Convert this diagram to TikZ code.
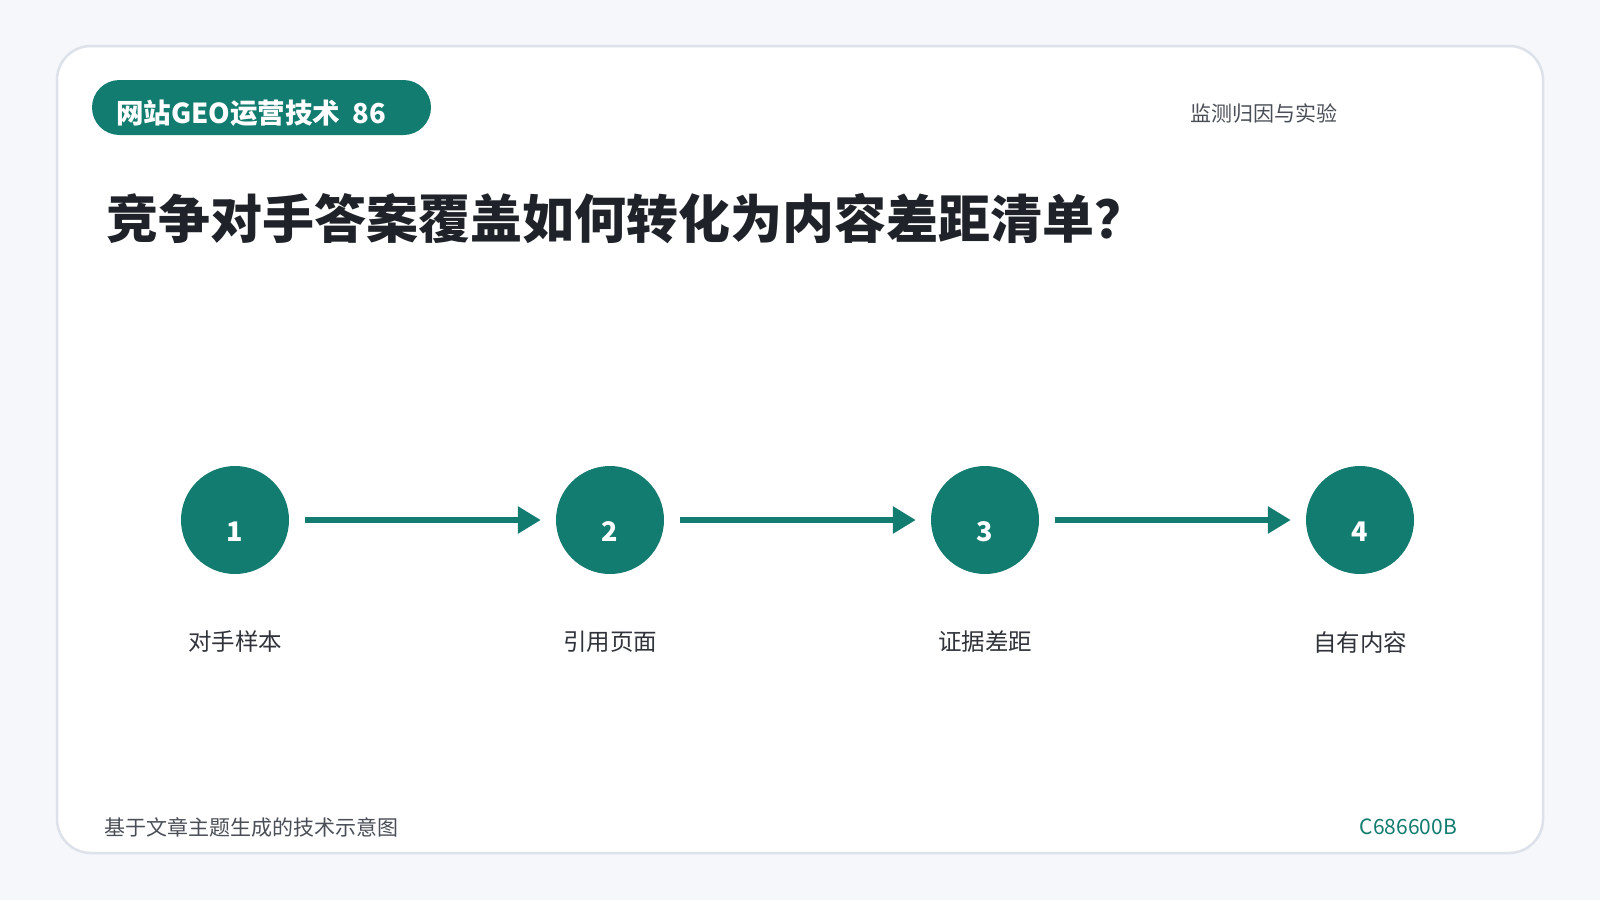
\documentclass[tikz,border=0pt]{standalone}
\usepackage{fontspec}
\setmainfont{Noto Sans CJK SC}
\usetikzlibrary{arrows.meta}
\definecolor{bgc}{HTML}{F5F7FA}
\definecolor{cardline}{HTML}{DCE1EA}
\definecolor{teal}{HTML}{117C6F}
\definecolor{ink}{HTML}{1F2329}
\definecolor{subink}{HTML}{4A4F57}
\definecolor{labink}{HTML}{30343A}
\tikzset{
  stepcircle/.style={circle, fill=teal, minimum size=108pt, inner sep=0pt},
  stepnum/.style={text=white, inner sep=0pt, font=\fontsize{27}{27}\selectfont\bfseries},
  steplabel/.style={text=labink, font=\fontsize{23.5}{24}\selectfont, inner sep=0pt},
  flow/.style={draw=teal, line width=6.5pt, -{Triangle[length=23pt,width=26pt]}, shorten <=16pt, shorten >=15pt},
}
\begin{document}
\begin{tikzpicture}[x=1pt,y=-1pt]
\fill[bgc] (0,0) rectangle (1600,900);
\useasboundingbox (0,0) rectangle (1600,900);
\draw[cardline, line width=2.5pt, fill=white, rounded corners=34pt] (57,46) rectangle (1543,853);
% pill
\fill[teal, rounded corners=27.5pt] (92,80) rectangle (431,135);
\node[anchor=west, inner sep=0pt, text=white, font=\fontsize{27.5}{27.5}\selectfont\bfseries] (pill) at (116,113) {网站GEO运营技术~~86};
\node[anchor=west, inner sep=0pt, text=subink, font=\fontsize{21}{21}\selectfont] (topic) at (1190,113) {监测归因与实验};
\node[anchor=west, inner sep=0pt, text=ink, font=\fontsize{52}{52}\selectfont\bfseries] (title) at (106,219) {竞争对手答案覆盖如何转化为内容差距清单？};
% steps
\node[stepcircle] (c1) at (235,520) {};
\node[stepcircle] (c2) at (610,520) {};
\node[stepcircle] (c3) at (985,520) {};
\node[stepcircle] (c4) at (1360,520) {};
\node[stepnum] (n1) at ([yshift=-12pt]c1.center) {1};
\node[stepnum] (n2) at ([yshift=-12pt]c2.center) {2};
\node[stepnum] (n3) at ([yshift=-12pt]c3.center) {3};
\node[stepnum] (n4) at ([yshift=-12pt]c4.center) {4};
\draw[flow] (c1) -- (c2);
\draw[flow] (c2) -- (c3);
\draw[flow] (c3) -- (c4);
\node[steplabel] (l1) at (235,642) {对手样本};
\node[steplabel] (l2) at (610,642) {引用页面};
\node[steplabel] (l3) at (985,642) {证据差距};
\node[steplabel] (l4) at (1360,642) {自有内容};
% footer
\node[anchor=west, inner sep=0pt, text=subink, font=\fontsize{21}{21}\selectfont] (foot) at (104,827) {基于文章主题生成的技术示意图};
\node[anchor=east, inner sep=0pt, text=teal, font=\fontsize{21}{21}\selectfont] (code) at (1457,827) {C686600B};
\end{tikzpicture}
\end{document}
